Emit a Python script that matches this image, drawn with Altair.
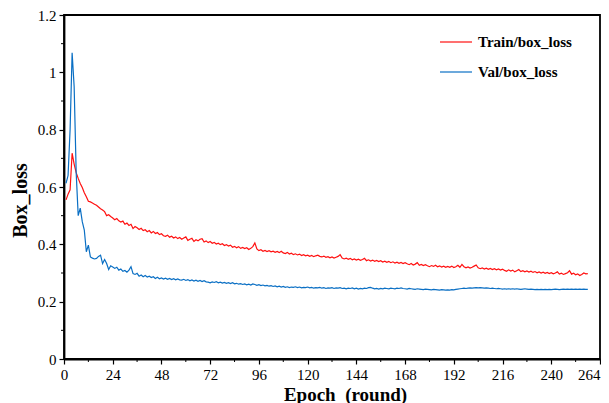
import altair as alt
import pandas as pd

train = [
    0.555, 0.575, 0.590, 0.718, 0.680, 0.650, 0.630, 0.612, 0.598, 0.580,
    0.566, 0.550, 0.548, 0.544, 0.540, 0.536, 0.530, 0.524, 0.520, 0.514,
    0.500, 0.503, 0.497, 0.492, 0.486, 0.490, 0.482, 0.478, 0.481, 0.470,
    0.474, 0.466, 0.470, 0.455, 0.462, 0.458, 0.452, 0.456, 0.448, 0.451,
    0.444, 0.448, 0.440, 0.445, 0.438, 0.441, 0.434, 0.437, 0.430, 0.428,
    0.432, 0.425, 0.428, 0.422, 0.426, 0.420, 0.424, 0.418, 0.422, 0.426,
    0.414, 0.418, 0.421, 0.410, 0.416, 0.412, 0.418, 0.420, 0.408, 0.412,
    0.406, 0.410, 0.404, 0.407, 0.401, 0.404, 0.399, 0.402, 0.396, 0.399,
    0.394, 0.397, 0.390, 0.393, 0.388, 0.392, 0.386, 0.389, 0.385, 0.388,
    0.382, 0.386, 0.392, 0.405, 0.384, 0.378, 0.381, 0.376, 0.379, 0.375,
    0.378, 0.374, 0.376, 0.372, 0.375, 0.371, 0.376, 0.370, 0.368, 0.372,
    0.366, 0.369, 0.364, 0.367, 0.363, 0.366, 0.361, 0.364, 0.360, 0.362,
    0.358, 0.361, 0.357, 0.360, 0.362, 0.358, 0.356, 0.359, 0.355, 0.357,
    0.353, 0.356, 0.352, 0.355, 0.358, 0.364, 0.352, 0.349, 0.352, 0.348,
    0.351, 0.346, 0.349, 0.345, 0.348, 0.344, 0.347, 0.351, 0.343, 0.346,
    0.342, 0.345, 0.341, 0.344, 0.340, 0.343, 0.338, 0.341, 0.337, 0.340,
    0.336, 0.339, 0.335, 0.338, 0.334, 0.337, 0.333, 0.336, 0.332, 0.329,
    0.333, 0.328, 0.331, 0.336, 0.327, 0.330, 0.326, 0.329, 0.325, 0.322,
    0.326, 0.323, 0.327, 0.322, 0.325, 0.321, 0.324, 0.320, 0.323, 0.320,
    0.324, 0.319, 0.322, 0.327, 0.320, 0.330, 0.322, 0.318, 0.321, 0.317,
    0.320, 0.324, 0.328, 0.318, 0.315, 0.318, 0.314, 0.317, 0.313, 0.316,
    0.312, 0.315, 0.311, 0.314, 0.310, 0.313, 0.309, 0.306, 0.311, 0.307,
    0.310, 0.304, 0.308, 0.312, 0.305, 0.308, 0.304, 0.307, 0.303, 0.306,
    0.302, 0.305, 0.301, 0.304, 0.300, 0.303, 0.299, 0.302, 0.298, 0.301,
    0.297, 0.300, 0.304, 0.296, 0.299, 0.295, 0.298, 0.301, 0.308, 0.296,
    0.299, 0.294, 0.297, 0.291, 0.295, 0.300, 0.297, 0.298,
]

val = [
    0.613, 0.640, 0.800, 1.068, 0.950, 0.650, 0.500, 0.526, 0.479, 0.450,
    0.374, 0.397, 0.356, 0.352, 0.349, 0.351, 0.358, 0.362, 0.333, 0.347,
    0.333, 0.312, 0.325, 0.321, 0.316, 0.320, 0.310, 0.314, 0.306, 0.309,
    0.303, 0.310, 0.322, 0.298, 0.295, 0.299, 0.289, 0.293, 0.287, 0.291,
    0.286, 0.289, 0.284, 0.287, 0.281, 0.285, 0.280, 0.283, 0.279, 0.282,
    0.278, 0.281, 0.277, 0.280, 0.276, 0.279, 0.276, 0.275, 0.278, 0.274,
    0.277, 0.273, 0.276, 0.272, 0.275, 0.271, 0.274, 0.270, 0.273, 0.269,
    0.268, 0.266, 0.269, 0.267, 0.270, 0.266, 0.268, 0.265, 0.267, 0.264,
    0.266, 0.263, 0.266, 0.262, 0.264, 0.261, 0.263, 0.260, 0.262, 0.259,
    0.261, 0.258, 0.262, 0.260, 0.257, 0.259, 0.256, 0.258, 0.255, 0.257,
    0.254, 0.256, 0.253, 0.255, 0.252, 0.254, 0.251, 0.253, 0.250, 0.252,
    0.249, 0.251, 0.250, 0.252, 0.249, 0.251, 0.248, 0.250, 0.249, 0.251,
    0.248, 0.250, 0.247, 0.249, 0.248, 0.250, 0.247, 0.249, 0.246, 0.248,
    0.247, 0.249, 0.246, 0.248, 0.247, 0.249, 0.246, 0.247, 0.245, 0.247,
    0.246, 0.248, 0.245, 0.247, 0.244, 0.246, 0.245, 0.247, 0.246, 0.249,
    0.250, 0.247, 0.245, 0.246, 0.244, 0.246, 0.245, 0.247, 0.246, 0.245,
    0.247, 0.246, 0.245, 0.247, 0.246, 0.248, 0.246, 0.245, 0.244, 0.246,
    0.245, 0.244, 0.243, 0.245, 0.244, 0.243, 0.242, 0.244, 0.243, 0.242,
    0.241, 0.243, 0.242, 0.241, 0.240, 0.242, 0.241, 0.240, 0.241, 0.240,
    0.242, 0.241, 0.243, 0.244, 0.245, 0.246, 0.247, 0.246, 0.247, 0.248,
    0.247, 0.248, 0.249, 0.248, 0.249, 0.248, 0.247, 0.248, 0.247, 0.246,
    0.247, 0.246, 0.245, 0.246, 0.245, 0.244, 0.245, 0.244, 0.245, 0.244,
    0.245, 0.244, 0.245, 0.244, 0.243, 0.244, 0.245, 0.244, 0.243, 0.244,
    0.243, 0.242, 0.243, 0.242, 0.243, 0.242, 0.243, 0.242, 0.243, 0.242,
    0.243, 0.244, 0.243, 0.242, 0.243, 0.244, 0.243, 0.244, 0.243, 0.244,
    0.243, 0.244, 0.243, 0.244, 0.243, 0.244, 0.243, 0.243,
]

series_names = ["Train/box_loss", "Val/box_loss"]
series_colors = ["#ff1010", "#0a6fc4"]
x_ticks = list(range(0, 265, 24))
x_minor = list(range(12, 264, 24))
y_ticks = [0, 0.2, 0.4, 0.6, 0.8, 1.0, 1.2]
y_minor = [0.1, 0.3, 0.5, 0.7, 0.9, 1.1]

rows = []
for i, v in enumerate(train):
    rows.append({"epoch": i + 1, "loss": v, "series": series_names[0]})
for i, v in enumerate(val):
    rows.append({"epoch": i + 1, "loss": v, "series": series_names[1]})
df = pd.DataFrame(rows)
leg_df = pd.DataFrame({"series": series_names})

FONT = "Liberation Serif"
W, H = 536, 344

xscale = alt.Scale(domain=[0, 264], nice=False, zero=False)
yscale = alt.Scale(domain=[0, 1.2], nice=False)
cscale = alt.Scale(domain=series_names, range=series_colors)

lines = alt.Chart(df).mark_line(strokeWidth=1.2, clip=True).encode(
    x=alt.X("epoch:Q", scale=xscale,
            axis=alt.Axis(values=x_ticks, title="Epoch\u00a0 (round)", grid=False,
                          titleX=281,
                          labelAlign=alt.condition("datum.value == 264",
                                                   alt.value("right"), alt.value("center")))),
    y=alt.Y("loss:Q", scale=yscale,
            axis=alt.Axis(values=y_ticks, format="~g", title="Box_loss", grid=False,
                          titleY=185)),
    color=alt.Color("series:N", scale=cscale, legend=None),
    order="epoch:Q",
)

xminor = alt.Chart(pd.DataFrame({"m": x_minor})).mark_rule(color="black", strokeWidth=1).encode(
    x=alt.X("m:Q", scale=xscale), y=alt.value(H), y2=alt.value(H + 3)
)
yminor = alt.Chart(pd.DataFrame({"m": y_minor})).mark_rule(color="black", strokeWidth=1).encode(
    y=alt.Y("m:Q", scale=yscale), x=alt.value(0), x2=alt.value(-3)
)

legend_layers = []
for i, name in enumerate(series_names):
    base = alt.Chart(leg_df).transform_filter(alt.datum.series == name)
    legend_layers.append(
        base.mark_rule(strokeWidth=1.2).encode(
            x=alt.value(376), x2=alt.value(408), y=alt.value(27 + 30 * i),
            color=alt.Color("series:N", scale=cscale, legend=None),
        )
    )
    legend_layers.append(
        base.mark_text(align="left", baseline="middle", font=FONT, fontSize=15,
                       fontWeight="bold", color="black").encode(
            x=alt.value(414), y=alt.value(27 + 30 * i), text="series:N"
        )
    )

chart = alt.layer(lines, xminor, yminor, *legend_layers).properties(
    width=W, height=H,
    autosize=alt.AutoSizeParams(type="none"),
    padding={"left": 56, "top": 7, "right": 1, "bottom": 44},
).configure_view(
    stroke="black", strokeWidth=1.8
).configure_axis(
    domainColor="black", domainWidth=1.8, tickColor="black", tickSize=5, tickWidth=1.2,
    labelFont=FONT, labelFontSize=15, labelColor="black", labelPadding=3,
    labelFlush=False,
    titleFont=FONT, titleFontSize=19, titleFontWeight="bold", titleColor="black",
).configure_axisX(titlePadding=3).configure_axisY(titlePadding=7, titleFontSize=20)

chart.save("out.html", embed_options={"renderer": "svg", "actions": False})
